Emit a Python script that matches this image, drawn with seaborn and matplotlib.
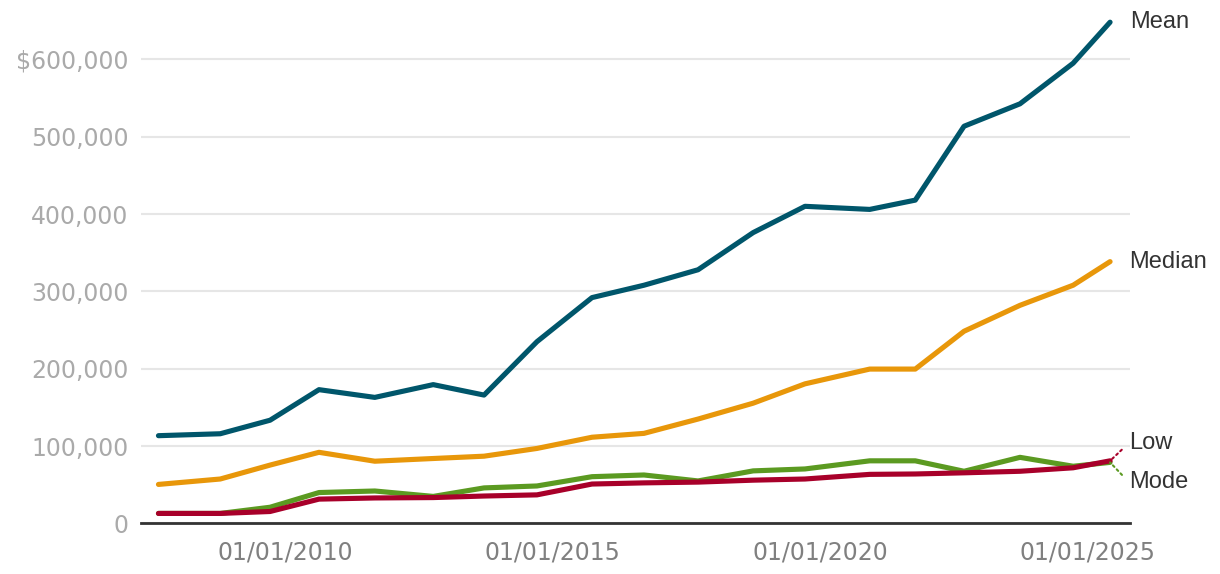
import matplotlib
matplotlib.use("Agg")
import matplotlib.pyplot as plt
import matplotlib.dates as mdates
import matplotlib.ticker as mticker
import numpy as np
import pandas as pd
import seaborn as sns

# data
dates = pd.to_datetime([
    "2007-08-20", "2008-10-15", "2009-09-20", "2010-08-20", "2011-09-05",
    "2012-10-08", "2013-09-20", "2014-09-16", "2015-09-27", "2016-09-16",
    "2017-09-20", "2018-10-01", "2019-09-20", "2020-12-05", "2021-10-12",
    "2022-09-10", "2023-09-27", "2024-09-24", "2025-06-03",
])
mean_vals = [113500, 116000, 133500, 173000, 163000, 179500, 166000, 235000, 292000, 308000,
             328000, 376000, 410000, 406000, 418000, 513500, 542500, 595000, 648000]
median_vals = [50500, 57500, 75500, 92000, 80500, 84000, 87000, 97000, 111500, 116500,
               135000, 155500, 180500, 199600, 199600, 248500, 282000, 308000, 338500]
mode_vals = [13000, 13000, 21000, 40000, 42000, 35000, 46000, 48500, 60500, 62700,
             55000, 68000, 70500, 81000, 81000, 67500, 85500, 74000, 79000]
low_vals = [13000, 13000, 15500, 31500, 33000, 33500, 35500, 37000, 51000, 52500,
            53500, 56000, 57500, 63500, 64000, 65500, 67500, 72000, 81000]

series = ["Mean", "Median", "Mode", "Low"]
colors = {"Mean": "#00566b", "Median": "#e8970a", "Mode": "#5b9a21", "Low": "#a8002a"}

df = pd.DataFrame({"date": dates, "Mean": mean_vals, "Median": median_vals,
                   "Mode": mode_vals, "Low": low_vals})
long = df.melt(id_vars="date", var_name="series", value_name="value")

sns.set_theme(style="white")
plt.rcParams["font.family"] = ["Liberation Sans", "DejaVu Sans"]

fig = plt.figure(figsize=(12.2, 5.74), dpi=100)
ax = fig.add_axes([0.1156, 0.088, 0.8105, 0.8895])

sns.lineplot(data=long, x="date", y="value", hue="series", hue_order=series,
             palette=colors, linewidth=3.7, legend=False, ax=ax,
             solid_capstyle="round", solid_joinstyle="round")

ax.set_xlim(pd.Timestamp("2007-04-23"), pd.Timestamp("2025-10-16"))
ax.set_ylim(0, 660000)

ax.set_yticks(np.arange(0, 600001, 100000))
ax.yaxis.set_major_formatter(mticker.FuncFormatter(
    lambda v, p: "$600,000" if v == 600000 else f"{v:,.0f}"))
ax.xaxis.set_major_locator(mdates.YearLocator(5))
ax.xaxis.set_major_formatter(mdates.DateFormatter("%m/%d/%Y"))

ax.yaxis.grid(True, color="#e6e6e6", linewidth=1.5)
ax.xaxis.grid(False)
ax.set_axisbelow(True)
for s in ["top", "right", "left"]:
    ax.spines[s].set_visible(False)
ax.spines["bottom"].set_color("#333333")
ax.spines["bottom"].set_linewidth(2)

ax.tick_params(axis="y", length=0, labelsize=17, labelcolor="#aaaaaa", pad=9)
ax.tick_params(axis="x", length=0, labelsize=17, labelcolor="#808080", pad=12)
for lab in ax.get_xticklabels() + ax.get_yticklabels():
    lab.set_family(["DejaVu Sans"])
ax.set_xlabel("")
ax.set_ylabel("")

# end labels
end_date = dates[-1]
ax.annotate("Mean", (end_date, mean_vals[-1]), xytext=(20, 0), textcoords="offset pixels",
            va="center", ha="left", fontsize=17, color="#333333")
ax.annotate("Median", (end_date, median_vals[-1]), xytext=(19, 0), textcoords="offset pixels",
            va="center", ha="left", fontsize=17, color="#333333")
ax.annotate("Low", (end_date, low_vals[-1]), xytext=(19, 18), textcoords="offset pixels",
            va="center", ha="left", fontsize=17, color="#333333",
            arrowprops=dict(arrowstyle="-", color=colors["Low"], linestyle=":", lw=1.5,
                            shrinkA=4, shrinkB=0, relpos=(0, 0.5)))
ax.annotate("Mode", (end_date, mode_vals[-1]), xytext=(19, -20), textcoords="offset pixels",
            va="center", ha="left", fontsize=17, color="#333333",
            arrowprops=dict(arrowstyle="-", color=colors["Mode"], linestyle=":", lw=1.5,
                            shrinkA=4, shrinkB=0, relpos=(0, 0.5)))

fig.savefig("out.png", dpi=100)
